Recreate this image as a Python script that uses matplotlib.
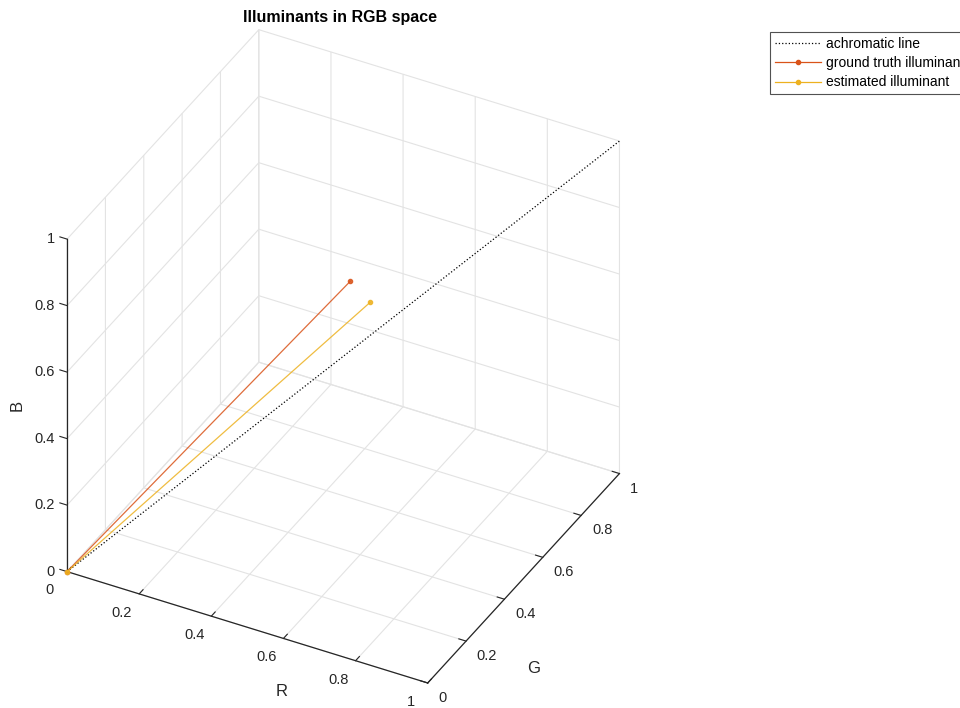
import numpy as np
import matplotlib.pyplot as plt

plt.rcParams['font.family'] = ['Liberation Sans', 'DejaVu Sans']

# illuminant vectors (R, G, B)
achromatic = [1.0, 1.0, 1.0]
gt_illum = [0.36, 0.80, 0.49]
est_illum = [0.415, 0.80, 0.445]
ticks = [0, 0.2, 0.4, 0.6, 0.8, 1]
tick_labels = ['0', '0.2', '0.4', '0.6', '0.8', '1']
labels = ['achromatic line', 'ground truth illuminant', 'estimated illuminant']

DARK = '#262626'
GRID = '#e3e3e3'

fig = plt.figure(figsize=(9.6, 7.08), dpi=100)
ax = fig.add_axes([-0.0156, -0.0014, 0.727, 0.970], projection='3d', proj_type='ortho')
ax.set_box_aspect((1, 1, 1))
ax.view_init(elev=35.5, azim=-62)

ax.plot([0, achromatic[0]], [0, achromatic[1]], [0, achromatic[2]],
        ':', color='black', lw=0.9, label=labels[0])
ax.plot([0, gt_illum[0]], [0, gt_illum[1]], [0, gt_illum[2]],
        '.-', color='#D95319', lw=0.9, ms=6, alpha=0.85, label=labels[1])
ax.plot([0, est_illum[0]], [0, est_illum[1]], [0, est_illum[2]],
        '.-', color='#EDB120', lw=0.9, ms=6, alpha=0.85, label=labels[2])

ax.set_xlim(0, 1)
ax.set_ylim(0, 1)
ax.set_zlim(0, 1)
for axis in (ax.xaxis, ax.yaxis, ax.zaxis):
    axis.set_ticks(ticks)
    axis.set_ticklabels([])
    for t in axis.get_major_ticks():
        t.label1.set_visible(False)
        t.label2.set_visible(False)
    axis.set_pane_color((1, 1, 1, 0))
    axis._axinfo['grid']['color'] = GRID
    axis._axinfo['grid']['linewidth'] = 0.8
    axis._axinfo['tick']['inward_factor'] = 0.0
    axis._axinfo['tick']['outward_factor'] = 0.25
    axis._axinfo['axisline']['color'] = DARK
    axis.line.set_color(DARK)
    axis.line.set_linewidth(0.9)
    axis.pane.set_edgecolor(GRID)
# put the B axis on the left vertical edge
ax.zaxis._axinfo['juggled'] = (1, 2, 0)
ax.tick_params(colors=DARK)

# tick labels placed MATLAB-style (offsets in data units)
tkw = dict(fontsize=10.5, color=DARK)
for v, s in zip(ticks, tick_labels):
    ax.text(v, -0.09, 0, s, ha='center', va='center', **tkw)
    ax.text(1.03, v, -0.035, s, ha='left', va='center', **tkw)
    ax.text(-0.026, -0.0136, v, s, ha='right', va='center', **tkw)

lkw = dict(fontsize=12, color=DARK, ha='center', va='center')
ax.text(0.70, -0.20, 0, 'R', **lkw)
ax.text(1.20, 0.176, 0, 'G', **lkw)
ax.text(-0.109, -0.057, 0.5, 'B', zdir='z', **lkw)

fig.text(0.354, 0.975, 'Illuminants in RGB space', ha='center', va='center',
         fontsize=11.5, fontweight='bold', color='black')

leg = fig.legend(loc='upper left', bbox_to_anchor=(770 / 960, 1 - 32 / 708),
                 fontsize=10, frameon=True, fancybox=False, numpoints=1,
                 handlelength=3.3, borderpad=0.35, labelspacing=0.38,
                 handletextpad=0.35, borderaxespad=0)
leg.get_frame().set_edgecolor(DARK)
leg.get_frame().set_linewidth(0.8)
for h in leg.legend_handles:
    h.set_alpha(1)

fig.savefig('out.png', dpi=100)
